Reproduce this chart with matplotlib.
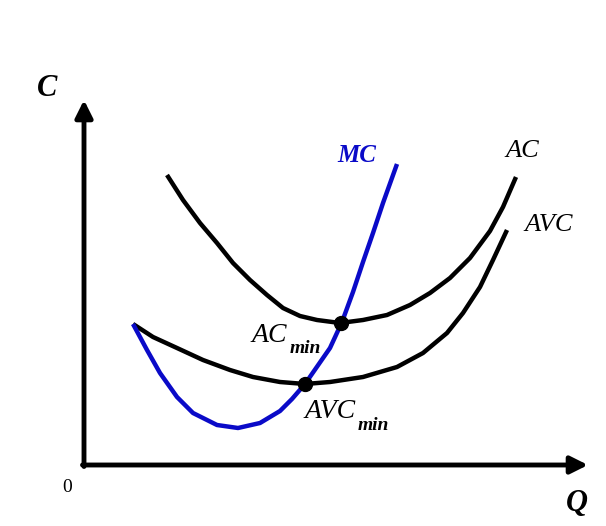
import matplotlib.pyplot as plt

plt.rcParams['font.family'] = ['Liberation Serif', 'DejaVu Serif']

# cost curves (Q across, C up, origin at the axes corner)
ac_q = [83, 99, 116, 133, 149, 166, 183, 199, 216, 233, 256,
        279, 303, 326, 346, 366, 386, 406, 419, 432]
ac_c = [290, 265, 242, 222, 202, 185, 170, 157, 149, 145, 142,
        145, 150, 160, 172, 187, 207, 234, 258, 288]

avc_q = [49, 69, 93, 119, 146, 169, 196, 221, 246, 279, 313,
         339, 363, 379, 396, 409, 423]
avc_c = [141, 128, 117, 105, 95, 88, 83, 81, 83, 88, 98,
         112, 132, 152, 178, 205, 235]

mc_q = [49, 63, 76, 93, 109, 133, 154, 176, 196, 208, 221,
        246, 258, 269, 279, 289, 299, 313]
mc_c = [141, 115, 92, 68, 52, 40, 37, 42, 54, 66, 81,
        117, 143, 173, 203, 232, 262, 301]

ac_min = (257, 142)
avc_min = (221, 81)

q_max = 504
c_max = 365

blue = '#0a0ac8'

fig = plt.figure(figsize=(6.06, 5.26), dpi=100)
ax = fig.add_axes([0, 0, 1, 1])
ax.set_xlim(-84, 522)
ax.set_ylim(-61, 465)
ax.axis('off')

# axes with arrow heads
arrow = dict(arrowstyle='-|>', lw=3.5, color='black', mutation_scale=26,
             shrinkA=0, shrinkB=0)
ax.annotate('', xy=(q_max, 0), xytext=(-1.5, 0), arrowprops=arrow)
ax.annotate('', xy=(0, c_max), xytext=(0, -1.5), arrowprops=arrow)

for q, c, col in [(ac_q, ac_c, 'black'), (avc_q, avc_c, 'black'),
                  (mc_q, mc_c, blue)]:
    ax.plot(q, c, color=col, lw=3.2, solid_capstyle='butt',
            solid_joinstyle='round')

ax.plot(*ac_min, 'o', color='black', ms=10, zorder=5)
ax.plot(*avc_min, 'o', color='black', ms=10, zorder=5)

# labels
ax.text(-37, 377, 'C', fontsize=22, style='italic', weight='bold',
        ha='center', va='center')
ax.text(493, -38, 'Q', fontsize=22, style='italic', weight='bold',
        ha='center', va='center')
ax.text(-17, -22, '0', fontsize=14, ha='center', va='center')

ax.text(273, 310, 'MC', fontsize=18, style='italic', weight='bold',
        color=blue, ha='center', va='center')
ax.text(438, 314, 'AC', fontsize=19, style='italic', ha='center', va='center')
ax.text(465, 240, 'AVC', fontsize=19, style='italic', ha='center', va='center')

ax.text(168, 123, 'AC', fontsize=20, style='italic', ha='left', va='baseline')
ax.text(206, 112, 'min', fontsize=14, style='italic', weight='bold',
        ha='left', va='baseline')
ax.text(221, 47, 'AVC', fontsize=20, style='italic', ha='left', va='baseline')
ax.text(274, 35, 'min', fontsize=14, style='italic', weight='bold',
        ha='left', va='baseline')

fig.savefig('out.png', dpi=100)
